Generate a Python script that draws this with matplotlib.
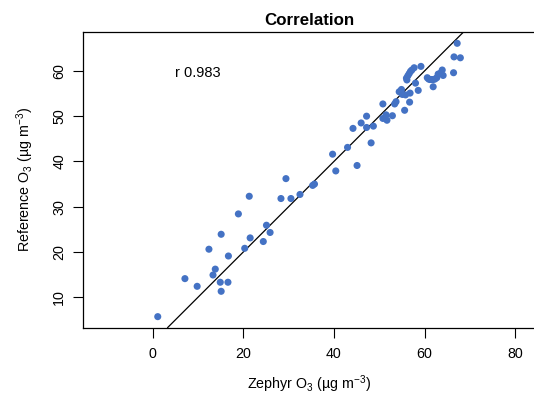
import numpy as np
import matplotlib
matplotlib.use("Agg")
import matplotlib.pyplot as plt

plt.rcParams['font.family'] = ['Liberation Sans', 'DejaVu Sans']
plt.rcParams['mathtext.fontset'] = 'custom'
plt.rcParams['mathtext.rm'] = 'Liberation Sans'
plt.rcParams['mathtext.it'] = 'Liberation Sans:italic'
plt.rcParams['mathtext.bf'] = 'Liberation Sans:bold'

zephyr = [1.1, 7.1, 9.8, 12.4, 13.3, 13.8, 14.9, 15.1, 15.1, 16.6, 16.7, 18.9,
          20.3, 21.3, 21.5, 24.4, 25.1, 25.9, 28.3, 29.4, 30.5, 32.5, 35.3, 35.7,
          39.7, 40.4, 43.0, 45.1, 44.2, 46.0, 47.2, 47.2, 48.7, 48.2, 50.8, 50.8,
          51.5, 51.7, 52.9, 53.4, 53.7, 54.4, 54.9, 55.1, 55.8, 55.6, 56.7, 56.8,
          56.1, 56.0, 56.3, 56.6, 56.9, 57.2, 57.7, 58.0, 58.6, 59.2, 60.6, 60.9,
          61.2, 61.6, 61.9, 62.3, 62.7, 63.0, 63.5, 63.9, 64.1, 61.9, 66.4, 66.5,
          67.9, 67.2]
reference = [5.7, 14.1, 12.4, 20.6, 14.9, 16.2, 13.3, 11.3, 23.9, 13.3, 19.1, 28.4,
             20.8, 32.3, 23.1, 22.3, 25.9, 24.3, 31.8, 36.2, 31.8, 32.7, 34.7, 35.0,
             41.6, 37.9, 43.1, 39.1, 47.3, 48.5, 50.0, 47.5, 47.8, 44.1, 52.7, 49.5,
             50.3, 49.1, 50.1, 52.7, 53.2, 55.4, 55.9, 54.8, 54.7, 51.3, 53.1, 55.1,
             58.0, 58.4, 58.9, 59.4, 59.9, 60.2, 60.7, 57.3, 55.7, 61.0, 58.5, 58.2,
             58.1, 58.1, 58.1, 58.2, 58.5, 59.3, 59.5, 60.2, 59.0, 56.5, 59.6, 63.1,
             62.9, 66.1]
line_slope = 1.0
line_intercept = 0.0
r_label = "r 0.983"
x_ticks = [0, 20, 40, 60, 80]
y_ticks = [10, 20, 30, 40, 50, 60]

W, H = 534, 400
fig = plt.figure(figsize=(W / 100, H / 100), dpi=100)
left, right, top, bottom = 83, 536, 32, 327.5
ax = fig.add_axes([left / W, (H - bottom) / H, (right - left) / W, (bottom - top) / H])

ax.scatter(zephyr, reference, s=26, color='#4472C4', edgecolors='none', zorder=3)

ax.axline((0, line_intercept), slope=line_slope, color='black', lw=0.9, zorder=2)

ax.set_xlim(-15.4, 84.6)
ax.set_ylim(3.3, 68.6)
ax.set_xticks(x_ticks)
ax.set_yticks(y_ticks)
ax.tick_params(axis='both', direction='out', length=7, width=0.8, labelsize=10.3)
ax.tick_params(axis='x', pad=7)
ax.tick_params(axis='y', pad=5)
for lab in ax.get_yticklabels():
    lab.set_rotation(90)
    lab.set_va('center')
for s in ax.spines.values():
    s.set_linewidth(0.9)

ax.text(10, 59.6, r_label, ha='center', va='center', fontsize=10.5)
ax.set_title('Correlation', fontsize=12.2, fontweight='bold', pad=5)
ax.set_xlabel('Zephyr O$_3$ (µg m$^{-3}$)', fontsize=10.3, labelpad=9)
ax.set_ylabel('Reference O$_3$ (µg m$^{-3}$)', fontsize=10.3, labelpad=12)

fig.savefig('out.png', dpi=100)
